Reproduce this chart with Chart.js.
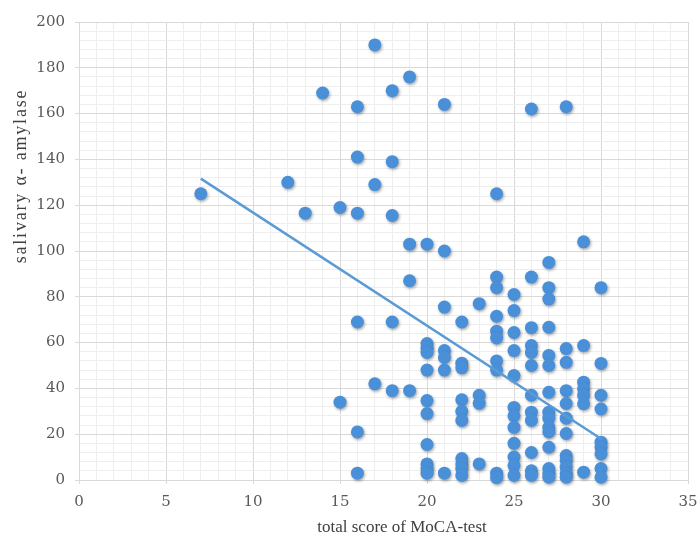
<!DOCTYPE html>
<html>
<head>
<meta charset="utf-8">
<script src="https://cdn.jsdelivr.net/npm/chart.js@4/dist/chart.umd.min.js"></script>
<style>
  html, body { margin: 0; padding: 0; background: #fff; }
  #myChart { display: block; }
</style>
</head>
<body>
<canvas id="myChart" width="699" height="539"></canvas>
<script>
// MoCA total score (x) and salivary amylase (y), one entry per subject
const mocaScores = [
    7, 12, 13, 14, 15, 15,
    16, 16, 16, 16, 16, 16,
    17, 17, 17,
    18, 18, 18, 18, 18,
    19, 19, 19, 19,
    20, 20, 20, 20, 20, 20, 20, 20, 20, 20, 20,
    21, 21, 21, 21, 21, 21, 21,
    22, 22, 22, 22, 22, 22, 22, 22, 22, 22,
    23, 23, 23, 23,
    24, 24, 24, 24, 24, 24, 24, 24, 24, 24,
    25, 25, 25, 25, 25, 25, 25, 25, 25, 25, 25, 25,
    26, 26, 26, 26, 26, 26, 26, 26, 26, 26, 26, 26,
    27, 27, 27, 27, 27, 27, 27, 27, 27, 27, 27, 27, 27, 27, 27,
    28, 28, 28, 28, 28, 28, 28, 28, 28, 28, 28, 28,
    29, 29, 29, 29, 29, 29, 29,
    30, 30, 30, 30, 30, 30, 30, 30, 30
];
const amylase = [
    125, 130, 116.5, 169, 119, 34,
    163, 141, 116.5, 69, 21, 3,
    190, 129, 42,
    170, 139, 115.5, 69, 39,
    176, 103, 87, 39,
    103, 59.6, 57.5, 55.7, 48, 34.7, 29, 15.5, 7, 5, 3,
    164, 100, 75.5, 56.5, 53.5, 48, 3,
    69, 51, 49, 35, 30, 26, 9.4, 7, 5, 2,
    77, 37, 33.5, 7,
    125, 88.6, 84, 71.5, 65, 62, 52, 48, 3, 1,
    81, 74, 64.4, 56.5, 45.6, 31.7, 28, 23, 16, 10, 6.3, 2,
    162, 88.6, 66.5, 58.7, 55.7, 50, 37, 29.6, 26, 12, 4, 2,
    95, 84, 79, 66.7, 54.4, 50, 38.3, 29.6, 27, 23, 21, 14.3, 5, 2.8, 1.2,
    163, 57.4, 51.4, 39, 33.4, 27, 20.3, 10.7, 8.5, 5.6, 2.8, 1.2,
    104, 58.7, 42.7, 39.8, 37, 33.3, 3.4,
    84, 50.9, 37, 31, 16.5, 14.3, 11.4, 5, 1.2
];

// linear trend line end points
const trendX = [7, 30];
const trendY = [131.6, 18];

const xTitle = 'total score of MoCA-test';
const yTitle = 'salivary \u03b1- amylase';

const points = mocaScores.map((x, i) => ({ x: x, y: amylase[i] }));
const trend = trendX.map((x, i) => ({ x: x, y: trendY[i] }));

// soft shadow under the markers, like the original
const shadowPlugin = {
    id: 'markerShadow',
    beforeDatasetDraw(chart, args) {
        if (args.index !== 1) return;
        const ctx = chart.ctx;
        ctx.save();
        ctx.shadowColor = 'rgba(0,0,0,0.35)';
        ctx.shadowBlur = 3;
        ctx.shadowOffsetX = 1;
        ctx.shadowOffsetY = 1.5;
    },
    afterDatasetDraw(chart, args) {
        if (args.index !== 1) return;
        chart.ctx.restore();
    }
};

// axis titles placed where the original has them
const titlePlugin = {
    id: 'axisTitles',
    afterDraw(chart) {
        const ctx = chart.ctx;
        ctx.save();
        ctx.fillStyle = '#404040';
        ctx.font = '17px "Liberation Serif", serif';
        ctx.textAlign = 'center';
        ctx.textBaseline = 'middle';
        ctx.fillText(xTitle, 402, 528);
        ctx.translate(21, 176);
        ctx.rotate(-Math.PI / 2);
        ctx.font = '18px "Liberation Serif", serif';
        ctx.letterSpacing = '1.8px';
        ctx.fillText(yTitle, 0, 0);
        ctx.restore();
    }
};

const gridMajor = '#d9d9d9';
const gridMinor = '#eeeeee';

const ctx = document.getElementById('myChart').getContext('2d');
const myChart = new Chart(ctx, {
    type: 'scatter',
    data: {
        datasets: [{
            type: 'line',
            label: 'trend',
            data: trend,
            borderColor: '#5b9bd5',
            borderWidth: 2.5,
            pointRadius: 0,
            fill: false,
            order: 0
        }, {
            label: 'subjects',
            data: points,
            backgroundColor: '#4a90d9',
            borderColor: '#4a90d9',
            borderWidth: 0,
            pointRadius: 6.5,
            clip: false,
            order: 1
        }]
    },
    options: {
        responsive: false,
        animation: false,
        layout: {
            padding: { left: 0, right: 11, top: 22, bottom: 0 }
        },
        plugins: {
            legend: { display: false },
            tooltip: { enabled: false }
        },
        scales: {
            x: {
                min: 0,
                max: 35,
                afterFit: function(scale) {
                    scale.height = 59;
                    scale.paddingLeft = 0;
                    scale.paddingRight = 0;
                },
                border: { color: gridMajor },
                grid: {
                    color: c => (c.tick.value % 5 === 0 ? gridMajor : gridMinor),
                    tickColor: c => (c.tick.value % 5 === 0 ? gridMajor : 'rgba(0,0,0,0)'),
                    tickLength: 4
                },
                ticks: {
                    stepSize: 1,
                    autoSkip: false,
                    maxRotation: 0,
                    padding: 9,
                    color: '#595959',
                    font: { family: '"DejaVu Serif", serif', size: 15 },
                    callback: v => (v % 5 === 0 ? v : '')
                }
            },
            y: {
                min: 0,
                max: 200,
                afterFit: function(scale) { scale.width = 79; },
                border: { color: gridMajor },
                grid: {
                    color: c => (c.tick.value % 20 === 0 ? gridMajor : gridMinor),
                    tickColor: c => (c.tick.value % 20 === 0 ? gridMajor : 'rgba(0,0,0,0)'),
                    tickLength: 4
                },
                ticks: {
                    stepSize: 4,
                    autoSkip: false,
                    padding: 10,
                    color: '#595959',
                    font: { family: '"DejaVu Serif", serif', size: 15 },
                    callback: v => (v % 20 === 0 ? v : '')
                }
            }
        }
    },
    plugins: [shadowPlugin, titlePlugin]
});
</script>
</body>
</html>
